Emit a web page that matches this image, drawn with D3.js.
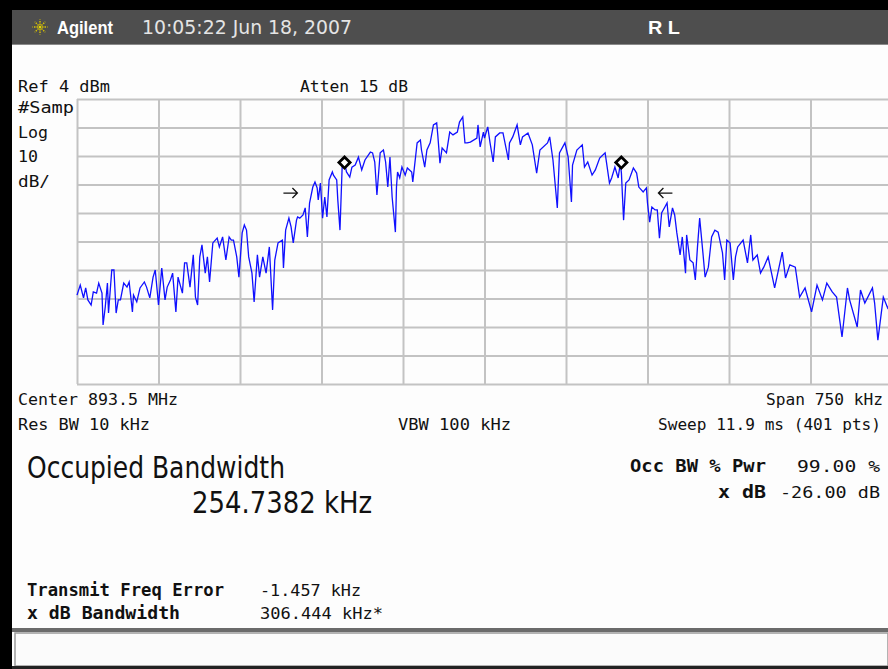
<!DOCTYPE html>
<html><head><meta charset="utf-8">
<script src="https://cdn.jsdelivr.net/npm/d3@7"></script>
<style>html,body{margin:0;padding:0;background:#000;overflow:hidden}</style>
</head><body><svg id="c" width="888" height="669"></svg>
<script>
// ---- instrument settings ----
const centerMHz = 893.5;
const spanKHz = 750;
const refLevelDbm = 4;
const dbPerDiv = 10;
const numDivs = 10;
const attenDb = 15;
const resBwKHz = 10;
const vbwKHz = 100;
const sweepMs = 11.9;
const sweepPts = 401;

// ---- measured results ----
const occBwKHz = 254.7382;
const occBwPct = 99.00;
const xDb = -26.00;
const freqErrorKHz = -1.457;
const xdBBwKHz = 306.444;
const occMarkerDbm = -18.3;
const xdBArrowDbm = -29.0;

// ---- trace (offset from center in kHz, level in dBm) ----
const traceOffsetKHz = [
-375,-372,-369,-367,-365,-362,-360,-357,-355,-352,
-351,-349,-347,-346,-343,-341,-339,-337,-335,-332,
-329,-327,-324,-323,-320,-317,-313,-311,-308,-305,
-303,-301,-300,-297,-294,-292,-289,-287,-284,-282,
-278,-276,-274,-271,-268,-266,-264,-262,-260,-257,
-255,-253,-250,-246,-244,-241,-238,-235,-233,-231,
-228,-226,-223,-221,-219,-217,-214,-212,-209,-207,
-204,-201,-198,-195,-193,-190,-186,-185,-183,-180,
-178,-176,-173,-172,-170,-167,-165,-163,-161,-158,
-156,-154,-153,-151,-149,-147,-145,-143,-140,-139,
-136,-135,-133,-131,-129,-127,-124,-122,-119,-116,
-113,-110,-105,-103,-101,-99,-96,-93,-91,-89,
-87,-85,-82,-81,-80,-78,-76,-73,-71,-67,
-66,-62,-59,-58,-55,-53,-50,-47,-44,-43,
-41,-39,-35,-32,-29,-25,-23,-20,-18,-16,
-13,-7,-6,-4,-1,0,3,5,8,10,
14,17,22,23,26,30,33,35,40,44,
48,51,58,60,63,67,69,74,77,80,
81,85,90,92,95,99,102,106,111,115,
117,120,123,125,126,127,128,130,133,137,
140,142,146,149,150,152,154,157,159,161,
163,166,168,170,173,175,177,180,182,185,
186,189,192,194,196,198,201,203,206,209,
212,215,219,221,223,226,229,231,233,238,
242,245,247,251,254,257,261,267,274,277,
281,286,290,295,301,306,311,315,320,324,
329,334,336,343,346,350,357,359,362,367,
371,375];
const traceDbm = [
-64.8,-61.3,-65.8,-62.3,-66.5,-68.3,-63.7,-64.1,-60.6,-64.1,
-75.3,-69.0,-60.6,-71.1,-56.0,-56.0,-71.1,-66.5,-66.5,-60.6,
-62.0,-60.2,-70.7,-64.8,-67.2,-62.3,-60.2,-62.0,-65.8,-58.5,
-56.0,-64.1,-68.3,-55.3,-66.5,-62.0,-59.5,-57.1,-70.7,-58.5,
-64.1,-53.5,-53.5,-62.0,-50.7,-65.5,-68.3,-51.4,-47.2,-57.1,
-51.4,-60.2,-46.5,-44.8,-47.9,-44.4,-52.5,-44.4,-45.5,-45.5,
-51.4,-58.5,-43.0,-40.2,-42.0,-51.4,-57.1,-67.2,-50.7,-58.5,
-51.4,-57.1,-47.9,-70.0,-52.5,-46.5,-45.5,-55.3,-42.0,-37.8,
-40.9,-46.5,-38.5,-37.4,-37.8,-36.7,-34.2,-44.4,-32.5,-26.9,
-25.1,-27.2,-31.4,-25.5,-37.8,-30.4,-37.4,-24.4,-21.6,-22.7,
-24.4,-31.4,-42.0,-19.9,-18.1,-21.6,-23.4,-19.9,-19.2,-16.4,
-20.9,-17.4,-14.6,-14.9,-18.1,-29.7,-14.9,-13.9,-18.1,-26.9,
-16.4,-30.4,-42.7,-26.9,-21.6,-23.7,-19.9,-22.7,-20.2,-21.6,
-25.1,-11.4,-10.4,-13.9,-19.9,-13.9,-11.4,-5.1,-4.4,-8.6,
-18.5,-13.2,-14.9,-7.6,-8.6,-7.6,-4.1,-2.3,-11.4,-11.4,
-11.1,-9.7,-5.1,-12.8,-7.6,-9.7,-5.8,-11.1,-18.1,-9.3,
-7.9,-7.9,-17.4,-11.4,-9.3,-5.1,-12.1,-9.3,-7.9,-12.1,
-22.0,-13.9,-11.4,-9.3,-17.4,-34.2,-14.9,-11.4,-16.4,-32.1,
-19.2,-13.9,-12.1,-19.9,-18.1,-22.7,-20.9,-16.7,-14.9,-25.5,
-23.7,-19.9,-23.7,-18.5,-22.0,-30.4,-38.5,-25.5,-24.4,-20.2,
-22.0,-26.9,-28.6,-27.2,-32.5,-39.2,-33.9,-34.9,-34.9,-44.8,
-36.0,-33.9,-32.5,-40.9,-34.2,-36.7,-43.0,-50.7,-44.4,-57.1,
-43.7,-52.5,-53.5,-59.5,-47.9,-37.8,-50.0,-58.5,-55.0,-44.4,
-42.0,-42.7,-50.0,-59.5,-45.5,-46.5,-59.5,-51.4,-47.9,-45.5,
-53.5,-43.7,-52.5,-50.7,-57.1,-55.0,-51.4,-62.3,-49.7,-58.8,
-54.2,-55.0,-65.5,-62.3,-70.7,-61.3,-66.5,-60.6,-63.7,-65.5,
-79.5,-62.3,-66.5,-76.0,-63.0,-67.6,-62.3,-67.6,-80.6,-65.5,
-69.3,-66.5];

// ---- drawing ----
const svg = d3.select("#c");
const W = 888, H = 669;
const plot = {left: 77, top: 99, right: 892, bottom: 384};
const MONO = "'DejaVu Sans Mono', monospace";
const COND = "'DejaVu Sans Condensed','DejaVu Sans',sans-serif";

// frame
svg.append("rect").attr("x",0).attr("y",0).attr("width",W).attr("height",H).attr("fill","#000");
svg.append("rect").attr("x",12).attr("y",44).attr("width",W-12).attr("height",H-44).attr("fill","#fdfdfd");
// header
svg.append("rect").attr("x",12).attr("y",10).attr("width",W-12).attr("height",34).attr("fill","#4e4e4e");
svg.append("line").attr("x1",12).attr("x2",W).attr("y1",44.5).attr("y2",44.5).attr("stroke","#8a8a8a").attr("stroke-width",1);

// star icon
const star = svg.append("g").attr("transform","translate(40,27)");
d3.range(8).forEach(i => {
  const a = i * Math.PI / 4;
  star.append("line").attr("x1",Math.cos(a)*2).attr("y1",Math.sin(a)*2)
    .attr("x2",Math.cos(a)*7.5).attr("y2",Math.sin(a)*7.5)
    .attr("stroke","#d9c400").attr("stroke-width",1.4).attr("stroke-dasharray","1.5,1");
});
star.append("circle").attr("r",1.5).attr("fill","#e8d800");

// text helper: right-aligned texts are placed by their start (end - length)
function txt(s, x, y, opt = {}) {
  const sx = opt.right ? x - opt.len : x;
  const t = svg.append("text").attr("x",sx).attr("y",y).text(s)
    .attr("font-family", opt.family || MONO)
    .attr("font-size", opt.size || 16.6)
    .attr("fill", opt.fill || "#111")
    .attr("font-weight", opt.bold ? "bold" : "normal");
  if (opt.len) t.attr("textLength", opt.len).attr("lengthAdjust","spacingAndGlyphs");
  return t;
}

txt("Agilent", 57, 34, {family:"'Liberation Sans', Arial, sans-serif", bold:true, fill:"#fff", size:18, len:56});
txt("10:05:22  Jun 18, 2007", 142, 34, {family:COND, fill:"#e4e4e4", size:19, len:210});
txt("R L", 648, 34, {family:"'Liberation Sans', Arial, sans-serif", bold:true, fill:"#fff", size:19, len:32});

// scales
const x = d3.scaleLinear().domain([-spanKHz/2, spanKHz/2]).range([plot.left, plot.right]);
const y = d3.scaleLinear().domain([refLevelDbm - dbPerDiv*numDivs, refLevelDbm]).range([plot.bottom, plot.top]);

const xTicks = d3.range(0, numDivs + 1).map(i => -spanKHz/2 + i * spanKHz / numDivs);
const yTicks = d3.range(0, numDivs + 1).map(i => refLevelDbm - i * dbPerDiv);

const gx = svg.append("g").attr("transform",`translate(0,${plot.bottom})`)
  .call(d3.axisBottom(x).tickValues(xTicks).tickSize(-(plot.bottom - plot.top)).tickFormat(""));
const gy = svg.append("g").attr("transform",`translate(${plot.left},0)`)
  .call(d3.axisLeft(y).tickValues(yTicks).tickSize(-(plot.right - plot.left)).tickFormat(""));
[gx, gy].forEach(g => {
  g.select(".domain").remove();
  g.selectAll(".tick line").attr("stroke","#c3c3c3").attr("stroke-width",2);
});

// trace
const pts = traceOffsetKHz.map((f, i) => [f, traceDbm[i]]);
svg.append("path").datum(pts)
  .attr("d", d3.line().x(d => x(d[0])).y(d => y(d[1])))
  .attr("fill","none").attr("stroke","#1010ff").attr("stroke-width",1.3)
  .attr("stroke-linejoin","miter");

// occupied bandwidth markers (diamonds)
const occEdges = [freqErrorKHz - occBwKHz/2, freqErrorKHz + occBwKHz/2];
svg.selectAll(".occ").data(occEdges).enter().append("path")
  .attr("transform", d => `translate(${x(d)},${y(occMarkerDbm)}) rotate(45)`)
  .attr("d", d3.symbol(d3.symbolSquare, 62)())
  .attr("fill","#fff").attr("stroke","#000").attr("stroke-width",2.8);

// x dB bandwidth arrows
const xdbEdges = [freqErrorKHz - xdBBwKHz/2, freqErrorKHz + xdBBwKHz/2];
const ay = y(xdBArrowDbm);
function arrow(tipX, dir) {
  const tail = tipX - dir * 14;
  svg.append("path")
    .attr("d", `M${tail},${ay} L${tipX},${ay} M${tipX - dir*5},${ay-5} L${tipX},${ay} L${tipX - dir*5},${ay+5}`)
    .attr("fill","none").attr("stroke","#111").attr("stroke-width",1.3);
}
arrow(x(xdbEdges[0]) - 19, 1);
arrow(x(xdbEdges[1]) + 9, -1);

// annotations
txt(`Ref ${refLevelDbm} dBm`, 18, 92, {len:92});
txt(`Atten ${attenDb} dB`, 300, 92, {len:108});
txt("#Samp", 18, 113, {len:56});
txt("Log", 18, 138, {len:30});
txt(`${dbPerDiv}`, 18, 162, {len:20});
txt("dB/", 18, 187, {len:32});
txt(`Center ${centerMHz} MHz`, 18, 405, {len:160});
txt(`Span ${spanKHz} kHz`, 883, 405, {right:true, len:117, size:16});
txt(`Res BW ${resBwKHz} kHz`, 18, 430, {len:132});
txt(`VBW ${vbwKHz} kHz`, 398, 430, {len:113});
txt(`Sweep ${sweepMs} ms (${sweepPts} pts)`, 881, 430, {right:true, len:223, size:16});

txt("Occupied Bandwidth", 27, 478, {family:COND, size:31, len:258});
txt(`${occBwKHz.toFixed(4)} kHz`, 192, 513, {family:COND, size:31, len:180});
txt("Occ BW % Pwr", 630, 472, {bold:true, len:136, size:17.5});
txt(`${occBwPct.toFixed(2)} %`, 880, 472, {right:true, len:83});
txt("x dB", 766, 498, {bold:true, right:true, len:48, size:17.5});
txt(`${xDb.toFixed(2)} dB`, 880, 498, {right:true, len:100});

txt("Transmit Freq Error", 27, 596, {bold:true, len:197, size:17});
txt(`${freqErrorKHz.toFixed(3)} kHz`, 260, 596, {len:101});
txt("x dB Bandwidth", 27, 619, {bold:true, len:153, size:17});
txt(`${xdBBwKHz.toFixed(3)} kHz*`, 260, 619, {len:123});

// bottom message box
svg.append("rect").attr("x",12).attr("y",628).attr("width",W-12).attr("height",4).attr("fill","#6b6b6b");
svg.append("rect").attr("x",15).attr("y",633).attr("width",W-15).attr("height",33).attr("fill","#fbfbfb")
  .attr("stroke","#9a9a9a").attr("stroke-width",1.5);
svg.append("rect").attr("x",12).attr("y",666).attr("width",W-12).attr("height",3).attr("fill","#222");
</script></body></html>
